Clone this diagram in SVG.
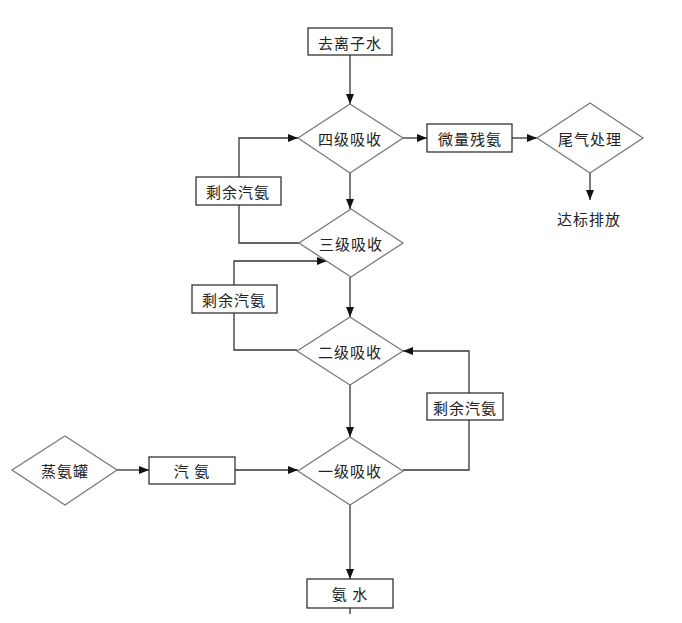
<svg xmlns="http://www.w3.org/2000/svg" width="682" height="623" viewBox="0 0 682 623">
<defs>
<marker id="ah" markerWidth="10" markerHeight="8" refX="10" refY="4" orient="auto" markerUnits="userSpaceOnUse">
<path d="M0,0 L10,4 L0,8 Z" fill="#111"/>
</marker>
<style>
.box{fill:#fff;stroke:#333;stroke-width:1.3}
.dia{fill:#fff;stroke:#7a7a7a;stroke-width:1.3}
.ln{fill:none;stroke:#333;stroke-width:1.3}
.arr{fill:none;stroke:#333;stroke-width:1.3;marker-end:url(#ah)}
text{font-family:"Noto Sans CJK SC","Noto Sans",sans-serif;font-size:15px;fill:#222;text-anchor:middle;dominant-baseline:central;letter-spacing:1px}
</style>
</defs>
<rect width="682" height="623" fill="#fff"/>
<g id="connectors">
<path class="arr" d="M350,55 V104"/>
<path class="arr" d="M403,138 H427"/>
<path class="arr" d="M512,138 H537"/>
<path class="arr" d="M590,173 V200"/>
<path class="arr" d="M239,177 V138 H298"/>
<path class="ln" d="M239,205 V243 H299"/>
<path class="arr" d="M350,173 V209"/>
<path class="arr" d="M234,285 V261 H327"/>
<path class="ln" d="M234,313 V350 H297"/>
<path class="arr" d="M350,277 V317"/>
<path class="arr" d="M469,393 V351 H403"/>
<path class="ln" d="M469,420 V470 H403"/>
<path class="arr" d="M350,385 V437"/>
<path class="arr" d="M117,470 H149"/>
<path class="arr" d="M235,470 H298"/>
<path class="arr" d="M350,505 V579"/>
<path class="ln" d="M350,608 V614"/>
</g>
<g id="n_qulizishui"><rect class="box" x="308" y="28" width="84" height="27"/><text x="350" y="42">去离子水</text></g>
<g id="n_siji"><polygon class="dia" points="350,104 403,138 350,173 298,138"/><text x="350" y="138">四级吸收</text></g>
<g id="n_weiliang"><rect class="box" x="427" y="124" width="85" height="28"/><text x="470" y="138">微量残氨</text></g>
<g id="n_weiqi"><polygon class="dia" points="590,103 643,138 590,173 537,138"/><text x="590" y="138">尾气处理</text></g>
<g id="n_dabiao"><text x="589" y="218">达标排放</text></g>
<g id="n_shengyu1"><rect class="box" x="196" y="177" width="85" height="28"/><text x="238" y="191">剩余汽氨</text></g>
<g id="n_sanji"><polygon class="dia" points="351,209 403,243 351,277 299,243"/><text x="351" y="243">三级吸收</text></g>
<g id="n_shengyu2"><rect class="box" x="192" y="285" width="85" height="28"/><text x="234" y="299">剩余汽氨</text></g>
<g id="n_erji"><polygon class="dia" points="350,317 403,351 350,385 297,351"/><text x="350" y="351">二级吸收</text></g>
<g id="n_shengyu3"><rect class="box" x="427" y="393" width="76" height="27"/><text x="465" y="407">剩余汽氨</text></g>
<g id="n_yiji"><polygon class="dia" points="350,437 403,471 350,505 298,471"/><text x="350" y="470">一级吸收</text></g>
<g id="n_zhengan"><polygon class="dia" points="65,436 117,470 65,505 12,470"/><text x="65" y="470">蒸氨罐</text></g>
<g id="n_qian"><rect class="box" x="149" y="457" width="86" height="27"/><text x="192" y="470">汽 氨</text></g>
<g id="n_anshui"><rect class="box" x="307" y="579" width="86" height="29"/><text x="350" y="593">氨 水</text></g>
</svg>
